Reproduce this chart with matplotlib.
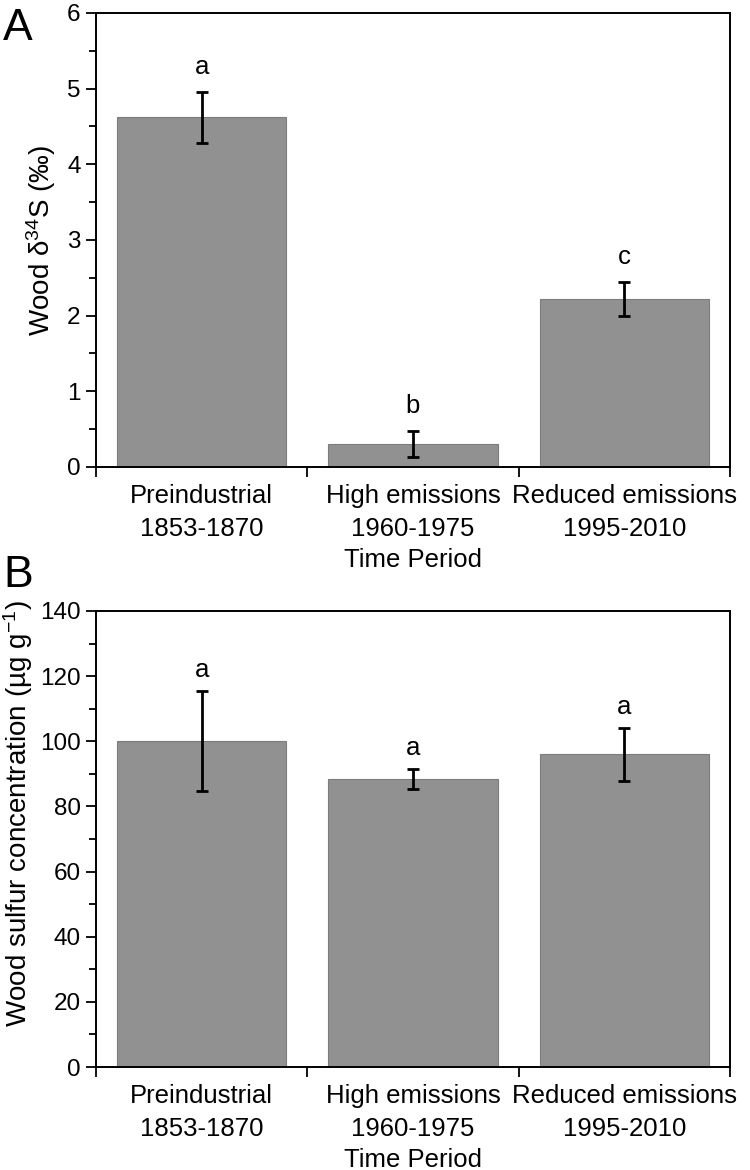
import matplotlib
matplotlib.use("Agg")
import matplotlib.pyplot as plt
from matplotlib.ticker import AutoMinorLocator, MultipleLocator

plt.rcParams['font.family'] = ['Liberation Sans', 'DejaVu Sans']
plt.rcParams['mathtext.fontset'] = 'custom'
plt.rcParams['mathtext.rm'] = 'Liberation Sans'
plt.rcParams['mathtext.it'] = 'Liberation Sans:italic'
plt.rcParams['mathtext.default'] = 'regular'

categories = ["Preindustrial\n1853-1870", "High emissions\n1960-1975", "Reduced emissions\n1995-2010"]

d34s_mean = [4.62, 0.30, 2.22]
d34s_err = [0.34, 0.17, 0.23]
d34s_letters = ["a", "b", "c"]

sulfur_mean = [100.0, 88.3, 96.0]
sulfur_err = [15.3, 3.1, 8.1]
sulfur_letters = ["a", "a", "a"]

FS_TICK = 17.5
FS_CAT = 18.5
FS_YLAB = 20
BAR_COLOR = "#919191"
EDGE_COLOR = "#7d7d7d"

fig = plt.figure(figsize=(7.5, 11.7), dpi=100)
axA = fig.add_axes([0.128, 0.6009, 0.8453, 0.388])
axB = fig.add_axes([0.128, 0.0880, 0.8453, 0.3898])


def draw(ax, means, errs, letters, ylim, major, ylabel, letter_off, ylab_xy):
    x = list(range(len(categories)))
    ax.bar(x, means, width=0.8, color=BAR_COLOR, edgecolor=EDGE_COLOR, linewidth=0.8, zorder=2)
    ax.errorbar(x, means, yerr=errs, fmt='none', ecolor='black', elinewidth=2.0,
                capsize=4.5, capthick=2.0, zorder=3)
    for xi, m, e, L in zip(x, means, errs, letters):
        ax.text(xi, m + e + letter_off, L, ha='center', va='center', fontsize=FS_CAT)
    ax.set_xlim(-0.5, len(categories) - 0.5)
    ax.set_ylim(*ylim)
    ax.yaxis.set_major_locator(MultipleLocator(major))
    ax.yaxis.set_minor_locator(AutoMinorLocator(2))
    ax.set_xticks(x)
    ax.set_xticklabels(categories, fontsize=FS_CAT, linespacing=1.5)
    ax.set_xticks([i - 0.5 for i in range(len(categories) + 1)], minor=True)
    ax.tick_params(axis='x', which='major', length=0, pad=12)
    ax.tick_params(axis='x', which='minor', length=7, width=1.3, direction='out')
    ax.tick_params(axis='y', which='major', length=7, width=1.3, direction='out',
                   labelsize=FS_TICK, pad=4)
    ax.tick_params(axis='y', which='minor', length=5, width=1.3, direction='out')
    for s in ax.spines.values():
        s.set_linewidth(1.4)
    ax.set_ylabel(ylabel, fontsize=FS_YLAB)
    ax.yaxis.set_label_coords(*ylab_xy)
    ax.set_xlabel("Time Period", fontsize=FS_CAT, labelpad=5)


draw(axA, d34s_mean, d34s_err, d34s_letters, (0, 6), 1,
     "Wood δ$^{34}$S (‰)", 0.33, (-0.06, 0.5))
draw(axB, sulfur_mean, sulfur_err, sulfur_letters, (0, 140), 20,
     "Wood sulfur concentration (µg g$^{-1}$)", 6.5, (-0.097, 0.555))

fig.text(0.004, 0.993, "A", fontsize=32, ha='left', va='top')
fig.text(0.004, 0.526, "B", fontsize=32, ha='left', va='top')

fig.savefig("out.png", dpi=100)
